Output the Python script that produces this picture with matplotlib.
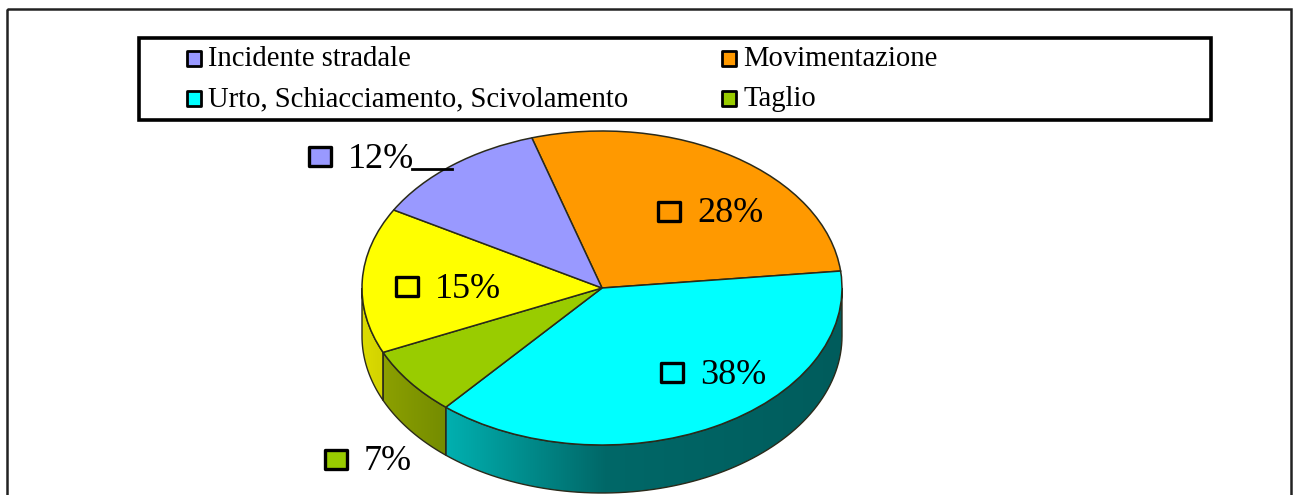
import matplotlib
matplotlib.use('Agg')
import matplotlib.pyplot as plt
from matplotlib.colors import LinearSegmentedColormap
from matplotlib.patches import Polygon, Rectangle
import numpy as np

plt.rcParams['font.family'] = ['Liberation Serif', 'DejaVu Serif']

W, H = 1295, 495

# slices, clockwise from the top
slice_names = ['Movimentazione', 'Urto, Schiacciamento, Scivolamento', 'Taglio', 'Altro', 'Incidente stradale']
slice_values = [28, 38, 7, 15, 12]
slice_colors = ['#FF9900', '#00FFFF', '#99CC00', '#FFFF00', '#9999FF']
side_shades = [
    ['#AA6600', '#663C00'],
    [(0, '#00B0B0'), (0.4, '#006868'), (1, '#005C5C')],
    ['#8CA000', '#748C00'],
    ['#DCDC00', '#D2D200'],
    ['#6666AA', '#5C5C99'],
]

legend_names = ['Incidente stradale', 'Movimentazione', 'Urto, Schiacciamento, Scivolamento', 'Taglio']
legend_colors = ['#9999FF', '#FF9900', '#00FFFF', '#99CC00']

START = 107
cx, cy, rx, ry, depth = 602, 288, 240, 157, 48

fig = plt.figure(figsize=(W / 100, H / 100), dpi=100, facecolor='white')

# pie axes: whole figure, scaled so the unit circle becomes the tilted ellipse
ax = fig.add_axes([0, 0, 1, 1])
ax.pie(slice_values, colors=slice_colors, startangle=START, counterclock=False,
       wedgeprops=dict(edgecolor='#2a2a1a', linewidth=1.1))

# side wall of the disc, only the front half shows
d = depth / ry
th1 = START
for val, shade in zip(slice_values, side_shades):
    th2 = th1 - 360 * val / sum(slice_values)
    hi, lo = min(th1, 0), max(th2, -180)
    th1 = th2
    if hi <= lo:
        continue
    t = np.radians(np.linspace(hi, lo, 80))
    top = np.column_stack([np.cos(t), np.sin(t)])
    bottom = (top - [0, d])[::-1]
    pts = np.vstack([top, bottom])
    poly = Polygon(pts, closed=True, fc='none', ec='#2a2a1a', lw=1.0, zorder=0.5)
    ax.add_patch(poly)
    cmap = LinearSegmentedColormap.from_list('side', shade)
    im = ax.imshow(np.linspace(0, 1, 256)[None, :], cmap=cmap, aspect='auto', zorder=0.2,
                   extent=[pts[:, 0].min(), pts[:, 0].max(), pts[:, 1].min(), pts[:, 1].max()])
    im.set_clip_path(poly)
ax.set_aspect('auto')
ax.set_xlim(-cx / rx, (W - cx) / rx)
ax.set_ylim((cy - H) / ry, cy / ry)

# overlay in pixel coordinates for frame, legend and labels
ov = fig.add_axes([0, 0, 1, 1])
ov.patch.set_visible(False)
ov.set_xlim(0, W)
ov.set_ylim(H, 0)
ov.axis('off')

ov.add_patch(Rectangle((7, 9), 1284, 500, fc='none', ec='#222222', lw=1.8))
ov.add_patch(Rectangle((139, 38), 1072, 82, fc='none', ec='black', lw=2.6))

legend_x = [186, 721, 186, 721]
legend_y = [58, 58, 98, 98]
for name, col, x, y in zip(legend_names, legend_colors, legend_x, legend_y):
    ov.add_patch(Rectangle((x + 1, y - 7), 14, 15, fc=col, ec='black', lw=2, joinstyle='round'))
    ov.text(x + 22, y + 1.5, name, fontsize=20.6, color='black', va='center', ha='left')

# data labels with their little colour squares
label_x = [658, 661, 325, 396, 309]
label_y = [211, 372, 459, 286, 156]
for val, col, x, y in zip(slice_values, slice_colors, label_x, label_y):
    ov.add_patch(Rectangle((x, y - 9.5), 22, 19, fc=col, ec='black', lw=2.4, joinstyle='round'))
    ov.text(x + 39, y + 3, f'{val}%', fontsize=26, color='black', va='center', ha='left')

# leader line for the 12% label
ov.plot([412, 452], [169, 169], color='black', lw=2)

fig.savefig('out.png', dpi=100)
